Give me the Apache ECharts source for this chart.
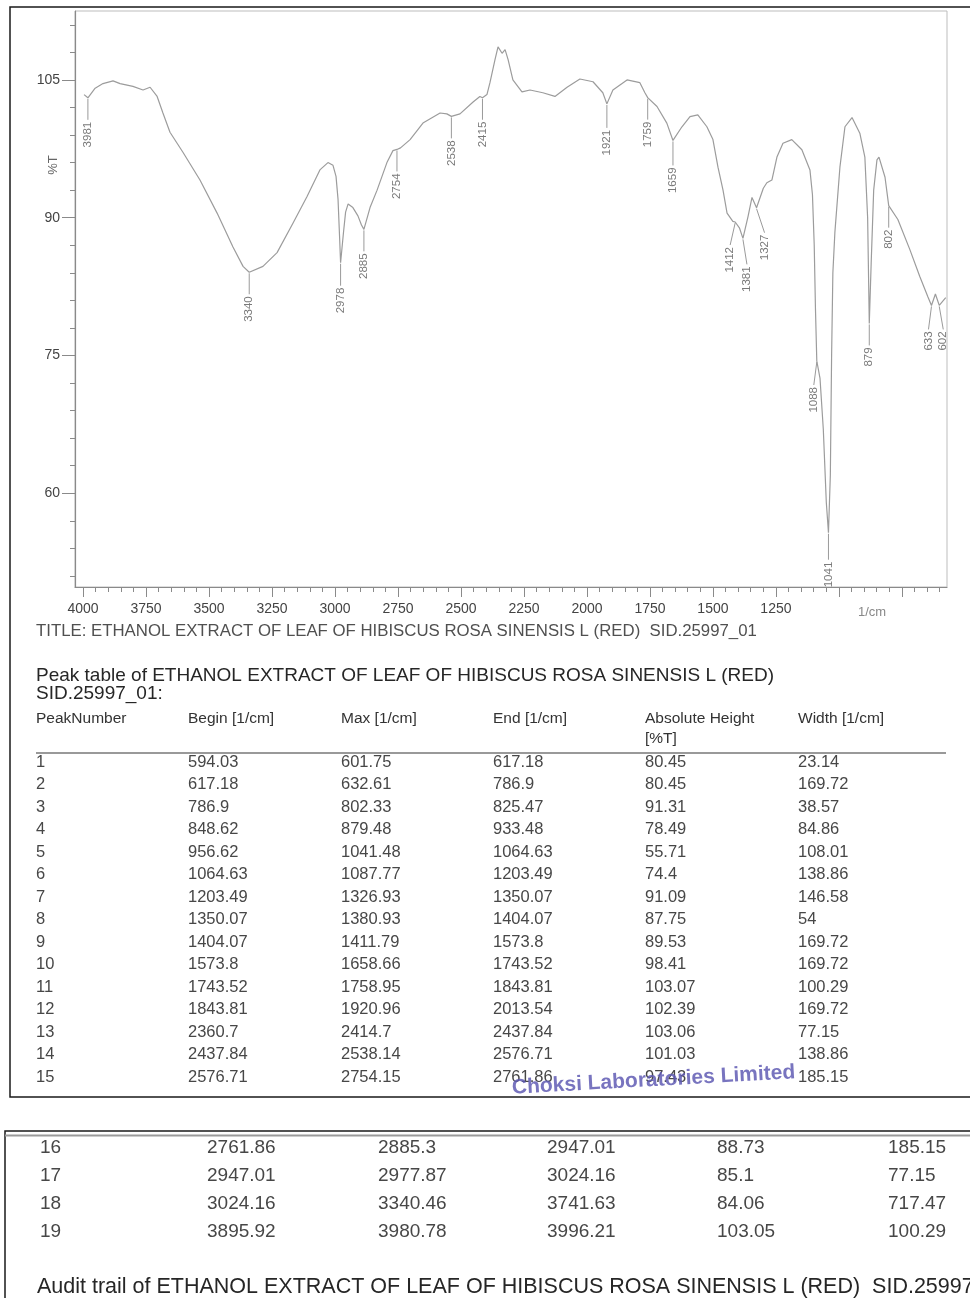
<!DOCTYPE html>
<html>
<head>
<meta charset="utf-8">
<title>FTIR spectrum – ethanol extract of Hibiscus rosa sinensis leaf</title>
<script src="https://cdn.jsdelivr.net/npm/echarts@6/dist/echarts.min.js"></script>
<style>
  html, body { margin: 0; padding: 0; background: #fff; }
  #chart { width: 970px; height: 1298px; }
</style>
</head>
<body>
<div id="chart"></div>
<script>
// ---- Spectrum trace (wavenumber in 1/cm, transmittance in %T) ----
const spectrumWavenumber = [
  3996, 3980.78, 3952, 3921, 3881, 3853, 3802, 3762, 3734, 3706,
  3683, 3655, 3603, 3536, 3468, 3405, 3365, 3340.46, 3286, 3230,
  3167, 3111, 3060, 3028, 3008, 2996, 2988, 2982, 2977.87, 2966,
  2958, 2948, 2929, 2909, 2895, 2885.3, 2861, 2833, 2794, 2770,
  2754.15, 2740, 2702, 2651, 2583, 2556, 2538.14, 2504, 2452, 2425,
  2414.7, 2397, 2385, 2365, 2353, 2337, 2325, 2313, 2294, 2258,
  2226, 2175, 2127, 2079, 2028, 1976, 1937, 1920.96, 1897, 1841,
  1790, 1770, 1758.95, 1722, 1683, 1658.66, 1623, 1591, 1560, 1524,
  1500, 1480, 1460, 1444, 1421, 1411.79, 1395, 1380.93, 1361, 1345,
  1326.93, 1300, 1286, 1266, 1246, 1222, 1187, 1147, 1115, 1105,
  1098, 1093, 1087.77, 1075, 1062, 1050, 1041.48, 1034, 1029, 1024,
  1016, 996, 976, 948, 917, 897, 886, 879.48, 872, 862,
  849, 841, 817, 802.33, 766, 718, 679, 647, 632.61, 617,
  601.75, 576
];
const spectrumTransmittance = [
  103.4, 103.05, 104.1, 104.6, 104.9, 104.6, 104.3, 103.9, 104.2, 103.2,
  101.4, 99.3, 97.1, 94.1, 90.5, 86.8, 84.7, 84.06, 84.7, 86.2,
  89.4, 92.3, 95.2, 96.0, 95.7, 94.5, 92.0, 88.0, 85.1, 88.5,
  90.6, 91.5, 91.1, 90.2, 89.2, 88.73, 91.1, 93.0, 96.0, 97.3,
  97.43, 97.6, 98.5, 100.3, 101.4, 101.3, 101.03, 101.3, 102.6, 103.2,
  103.06, 103.4, 104.7, 107.2, 108.6, 107.9, 108.3, 107.2, 105.0, 103.7,
  103.9, 103.6, 103.2, 104.2, 105.1, 104.8, 103.6, 102.39, 103.9, 105.0,
  104.7, 103.6, 103.07, 102.1, 100.3, 98.41, 99.9, 101.0, 101.2, 99.9,
  98.5, 95.5, 93.0, 90.5, 89.6, 89.53, 88.9, 87.75, 90.1, 92.2,
  91.09, 93.2, 93.8, 94.1, 96.6, 98.1, 98.5, 97.4, 95.2, 92.5,
  87.0, 80.0, 74.4, 72.5, 67.0, 59.0, 55.71, 62.0, 75.0, 84.0,
  88.4, 95.5, 99.9, 100.9, 99.2, 96.6, 90.0, 78.49, 85.0, 93.0,
  96.3, 96.6, 94.4, 91.31, 89.8, 86.5, 83.6, 81.4, 80.45, 81.7,
  80.45, 81.3
];

// ---- Peak table ----
const peakNumber = [1, 2, 3, 4, 5, 6, 7, 8, 9, 10, 11, 12, 13, 14, 15, 16, 17, 18, 19];
const peakBegin = [594.03, 617.18, 786.9, 848.62, 956.62, 1064.63, 1203.49, 1350.07, 1404.07, 1573.8,
  1743.52, 1843.81, 2360.7, 2437.84, 2576.71, 2761.86, 2947.01, 3024.16, 3895.92];
const peakMax = [601.75, 632.61, 802.33, 879.48, 1041.48, 1087.77, 1326.93, 1380.93, 1411.79, 1658.66,
  1758.95, 1920.96, 2414.7, 2538.14, 2754.15, 2885.3, 2977.87, 3340.46, 3980.78];
const peakEnd = [617.18, 786.9, 825.47, 933.48, 1064.63, 1203.49, 1350.07, 1404.07, 1573.8, 1743.52,
  1843.81, 2013.54, 2437.84, 2576.71, 2761.86, 2947.01, 3024.16, 3741.63, 3996.21];
const peakHeight = [80.45, 80.45, 91.31, 78.49, 55.71, 74.4, 91.09, 87.75, 89.53, 98.41,
  103.07, 102.39, 103.06, 101.03, 97.43, 88.73, 85.1, 84.06, 103.05];
const peakWidth = [23.14, 169.72, 38.57, 84.86, 108.01, 138.86, 146.58, 54, 169.72, 169.72,
  100.29, 169.72, 77.15, 138.86, 185.15, 185.15, 77.15, 717.47, 100.29];

// ---- Axis ticks ----
const xTickLabels = [4000, 3750, 3500, 3250, 3000, 2750, 2500, 2250, 2000, 1750, 1500, 1250];
const xMajorTicks = [4000, 3750, 3500, 3250, 3000, 2750, 2500, 2250, 2000, 1750, 1500, 1250, 1000, 750];
const xMinorTicks = [3950, 3900, 3850, 3800, 3700, 3650, 3600, 3550, 3450, 3400, 3350, 3300,
  3200, 3150, 3100, 3050, 2950, 2900, 2850, 2800, 2700, 2650, 2600, 2550, 2450, 2400, 2350, 2300,
  2200, 2150, 2100, 2050, 1950, 1900, 1850, 1800, 1700, 1650, 1600, 1550, 1450, 1400, 1350, 1300,
  1200, 1150, 1100, 1050, 950, 900, 850, 800, 700, 650, 600];
const yTickLabels = [60, 75, 90, 105];
const yMinorTicks = [51, 54, 57, 63, 66, 69, 72, 78, 81, 84, 87, 93, 96, 99, 102, 108, 111];

// ---- Texts ----
const sampleName = 'ETHANOL EXTRACT OF LEAF OF HIBISCUS ROSA SINENSIS L (RED)';
const sampleId = 'SID.25997_01';
const tableHeaders = ['PeakNumber', 'Begin [1/cm]', 'Max [1/cm]', 'End [1/cm]', 'Absolute Height', 'Width [1/cm]'];

// ---- Layout ----
const FONT = '"Liberation Sans", Arial, Helvetica, sans-serif';
const GRID = { left: 75, right: 23, top: 11, bottom: 711 };
const X_RANGE = [571, 4032];
const Y_RANGE = [49.8, 112.5];
// label placement under each peak: [dx, dy] from the peak point to the label's top end
const peakLabelNudge = {
  '3340': [0, 24], '2978': [0, 25], '1921': [0, 26], '1659': [0, 27],
  '1412': [-5, 25], '1381': [4, 28], '1327': [8, 27], '1088': [-3, 26],
  '1041': [0, 29], '633': [-3, 26], '602': [4, 26]
};

const chart = echarts.init(document.getElementById('chart'));

function text(x, y, s, font, fill, extra) {
  return Object.assign({
    type: 'text', x: x, y: y, silent: true,
    style: { text: s, font: font, fill: fill, align: 'left', verticalAlign: 'middle' }
  }, extra || {});
}

const graphics = [];
// outer frames
graphics.push({ type: 'rect', silent: true, shape: { x: 10, y: 7, width: 980, height: 1090 },
  style: { fill: 'none', stroke: '#1a1a1a', lineWidth: 1.5 } });
graphics.push({ type: 'rect', silent: true, shape: { x: 5, y: 1131, width: 990, height: 220 },
  style: { fill: 'none', stroke: '#1a1a1a', lineWidth: 1.5 } });
graphics.push({ type: 'line', silent: true, shape: { x1: 5, y1: 1135.5, x2: 970, y2: 1135.5 },
  style: { stroke: '#9a9a9a', lineWidth: 2 } });

// y axis name and x axis unit
graphics.push(text(53, 165, '%T', '13px ' + FONT, '#666',
  { rotation: Math.PI / 2, style: { text: '%T', font: '13px ' + FONT, fill: '#666', align: 'center', verticalAlign: 'middle' } }));
graphics.push(text(872, 612, '1/cm', '13px ' + FONT, '#888',
  { style: { text: '1/cm', font: '13px ' + FONT, fill: '#888', align: 'center', verticalAlign: 'middle' } }));

// titles
graphics.push(text(36, 631, 'TITLE: ' + sampleName + '  ' + sampleId, '16.8px ' + FONT, '#505050'));
graphics.push(text(36, 676, 'Peak table of ' + sampleName, '19px ' + FONT, '#262626'));
graphics.push(text(36, 694, sampleId + ':', '19px ' + FONT, '#262626'));

// table header
const cols1 = [36, 188, 341, 493, 645, 798];
tableHeaders.forEach(function (h, c) {
  graphics.push(text(cols1[c], 719, h, '15.5px ' + FONT, '#333'));
});
graphics.push(text(645, 739, '[%T]', '15.5px ' + FONT, '#333'));
graphics.push({ type: 'line', silent: true, shape: { x1: 36, y1: 753, x2: 946, y2: 753 },
  style: { stroke: '#777', lineWidth: 1.5 } });

// table rows
const cols2 = [40, 207, 378, 547, 717, 888];
peakNumber.forEach(function (n, i) {
  const cells = [n, peakBegin[i], peakMax[i], peakEnd[i], peakHeight[i], peakWidth[i]];
  let y, cols, font;
  if (i < 15) { y = 762 + i * 22.5; cols = cols1; font = '16.5px ' + FONT; }
  else { y = 1148 + (i - 15) * 28; cols = cols2; font = '19px ' + FONT; }
  cells.forEach(function (v, c) {
    graphics.push(text(cols[c], y, String(v), font, '#474747'));
  });
});

graphics.push(text(37, 1287, 'Audit trail of ' + sampleName + '  ' + sampleId, '21.5px ' + FONT, '#262626'));

// laboratory stamp
graphics.push(text(512, 1088, 'Choksi Laboratories Limited', 'bold 21px ' + FONT, '#6560b4',
  { rotation: 0.055, style: { text: 'Choksi Laboratories Limited', font: 'bold 21px ' + FONT, fill: 'rgba(96,92,180,0.85)', align: 'left', verticalAlign: 'middle' } }));

function plainNumber(v) { return String(v); }

const option = {
  animation: false,
  backgroundColor: '#fff',
  grid: {
    left: GRID.left, right: GRID.right, top: GRID.top, bottom: GRID.bottom,
    show: true, borderColor: '#bdbdbd', borderWidth: 1, backgroundColor: 'transparent'
  },
  xAxis: [
    {
      type: 'value', inverse: true, min: X_RANGE[0], max: X_RANGE[1],
      axisLine: { show: true, lineStyle: { color: '#8a8a8a', width: 1.2 } },
      axisTick: { show: true, customValues: xMajorTicks, length: 10, lineStyle: { color: '#8a8a8a' } },
      axisLabel: { show: true, customValues: xTickLabels, formatter: plainNumber, margin: 15,
                   fontSize: 14, fontFamily: FONT, color: '#444' },
      splitLine: { show: false }
    },
    {
      type: 'value', inverse: true, min: X_RANGE[0], max: X_RANGE[1], position: 'bottom',
      axisLine: { show: false },
      axisTick: { show: true, customValues: xMinorTicks, length: 5, lineStyle: { color: '#8a8a8a' } },
      axisLabel: { show: false },
      splitLine: { show: false }
    }
  ],
  yAxis: [
    {
      type: 'value', min: Y_RANGE[0], max: Y_RANGE[1], position: 'left',
      axisLine: { show: true, lineStyle: { color: '#8a8a8a', width: 1.2 } },
      axisTick: { show: true, customValues: yTickLabels, length: 13, lineStyle: { color: '#8a8a8a' } },
      axisLabel: { show: true, customValues: yTickLabels, formatter: plainNumber, margin: 15,
                   fontSize: 14, fontFamily: FONT, color: '#444' },
      splitLine: { show: false }
    },
    {
      type: 'value', min: Y_RANGE[0], max: Y_RANGE[1], position: 'left',
      axisLine: { show: false },
      axisTick: { show: true, customValues: yMinorTicks, length: 5, lineStyle: { color: '#8a8a8a' } },
      axisLabel: { show: false },
      splitLine: { show: false }
    }
  ],
  series: [
    {
      type: 'line',
      xAxisIndex: 0, yAxisIndex: 0,
      data: spectrumWavenumber.map(function (w, i) { return [w, spectrumTransmittance[i]]; }),
      showSymbol: false, smooth: false,
      lineStyle: { color: '#9c9c9c', width: 1.2 },
      silent: true
    },
    {
      type: 'custom',
      xAxisIndex: 0, yAxisIndex: 0,
      clip: false, silent: true,
      data: peakMax.map(function (w, i) { return [w, peakHeight[i]]; }),
      renderItem: function (params, api) {
        const wn = api.value(0);
        const p = api.coord([wn, api.value(1)]);
        const name = String(Math.round(wn));
        const nudge = peakLabelNudge[name] || [0, 24];
        const tx = p[0] + nudge[0];
        const ty = p[1] + nudge[1];
        return {
          type: 'group',
          children: [
            { type: 'line', shape: { x1: p[0], y1: p[1] + 1, x2: tx, y2: ty - 2 },
              style: { stroke: '#9a9a9a', lineWidth: 1 } },
            { type: 'text', x: tx, y: ty, rotation: Math.PI / 2,
              style: { text: name, x: 0, y: 0, align: 'right', verticalAlign: 'middle',
                       font: '11.5px ' + FONT, fill: '#7a7a7a' } }
          ]
        };
      }
    }
  ],
  graphic: { elements: graphics }
};

chart.setOption(option);
</script>
</body>
</html>
